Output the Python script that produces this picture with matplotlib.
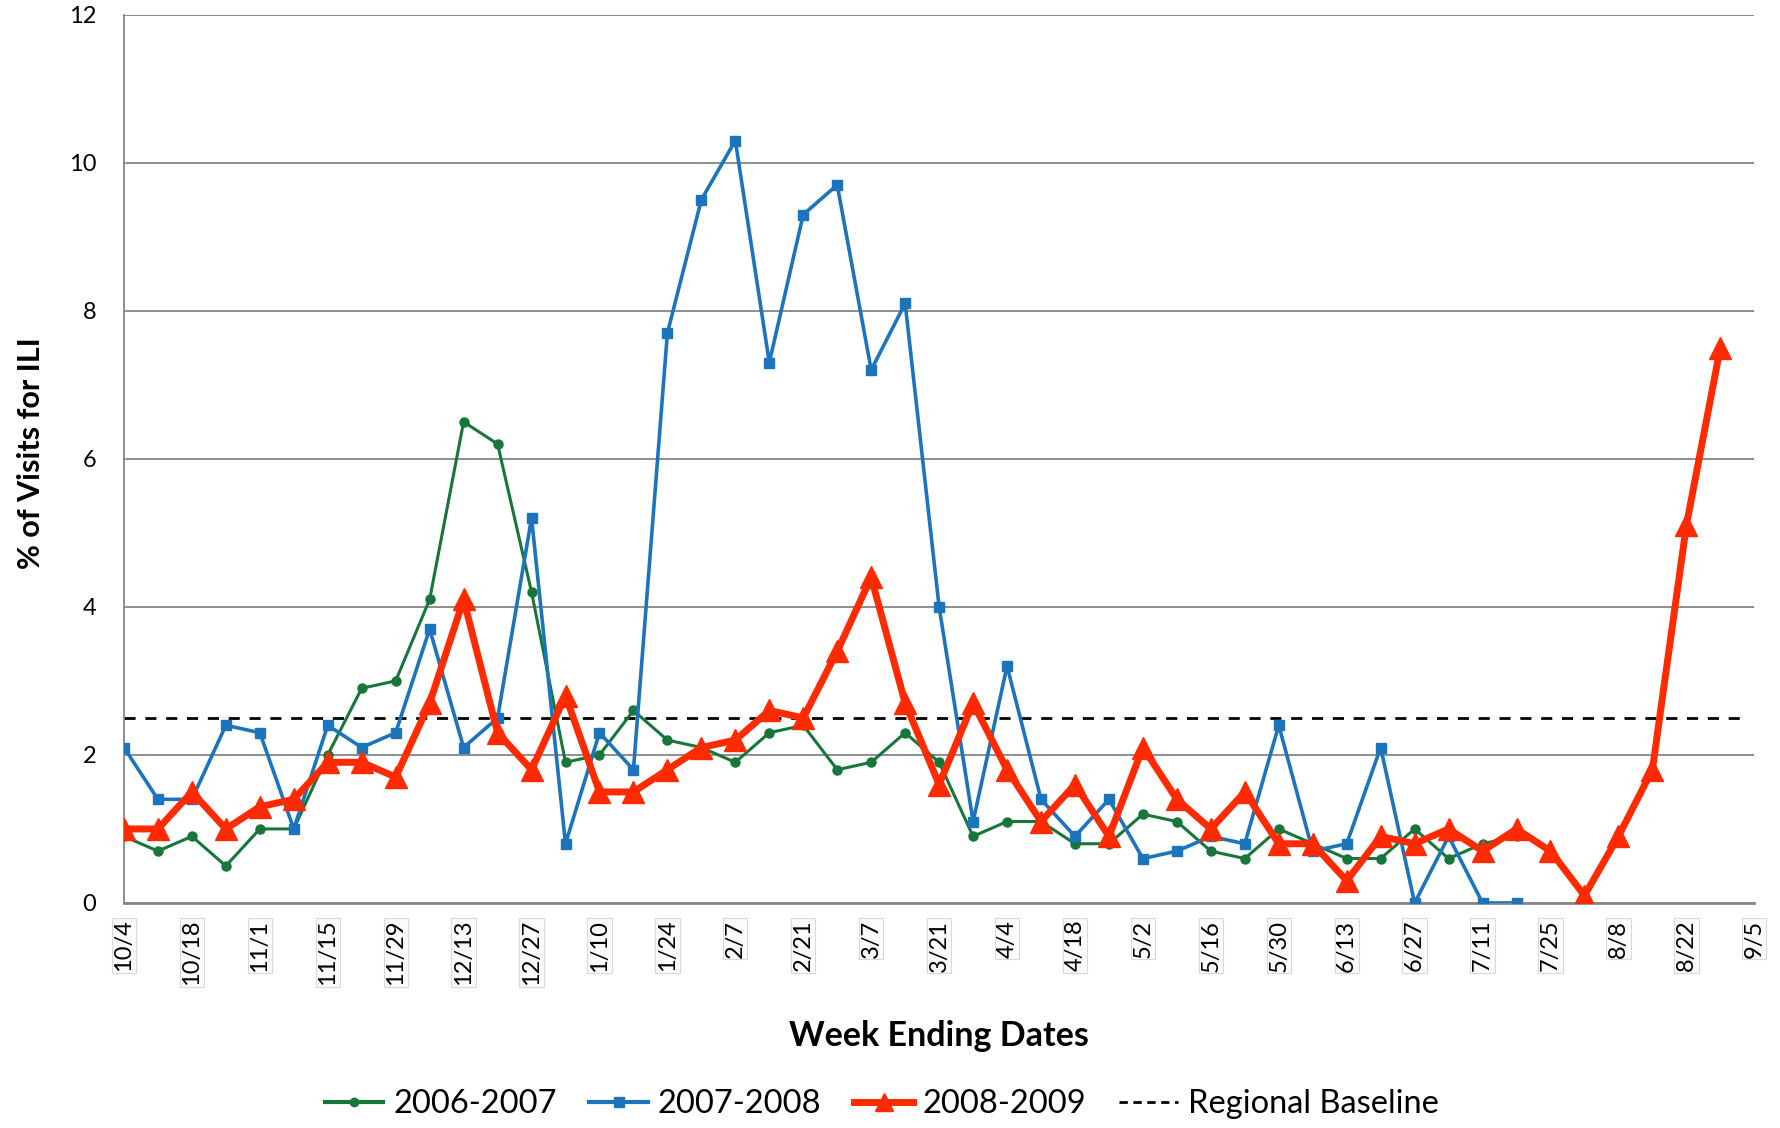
import numpy as np
from matplotlib import pyplot as plt
from matplotlib.lines import Line2D

plt.rcParams['font.family'] = ['Lato', 'DejaVu Sans']

# week ending dates shown on the axis (every 2nd week), 10/4 .. 9/5
dates = ['10/4', '10/18', '11/1', '11/15', '11/29', '12/13', '12/27', '1/10',
         '1/24', '2/7', '2/21', '3/7', '3/21', '4/4', '4/18', '5/2', '5/16',
         '5/30', '6/13', '6/27', '7/11', '7/25', '8/8', '8/22', '9/5']

s2006 = [0.9, 0.7, 0.9, 0.5, 1.0, 1.0, 2.0, 2.9, 3.0, 4.1, 6.5, 6.2, 4.2,
         1.9, 2.0, 2.6, 2.2, 2.1, 1.9, 2.3, 2.4, 1.8, 1.9, 2.3, 1.9, 0.9,
         1.1, 1.1, 0.8, 0.8, 1.2, 1.1, 0.7, 0.6, 1.0, 0.8, 0.6, 0.6, 1.0,
         0.6, 0.8, 0.9]
s2007 = [2.1, 1.4, 1.4, 2.4, 2.3, 1.0, 2.4, 2.1, 2.3, 3.7, 2.1, 2.5, 5.2,
         0.8, 2.3, 1.8, 7.7, 9.5, 10.3, 7.3, 9.3, 9.7, 7.2, 8.1, 4.0, 1.1,
         3.2, 1.4, 0.9, 1.4, 0.6, 0.7, 0.9, 0.8, 2.4, 0.7, 0.8, 2.1, 0.0,
         0.9, 0.0, 0.0]
s2008 = [1.0, 1.0, 1.5, 1.0, 1.3, 1.4, 1.9, 1.9, 1.7, 2.7, 4.1, 2.3, 1.8,
         2.8, 1.5, 1.5, 1.8, 2.1, 2.2, 2.6, 2.5, 3.4, 4.4, 2.7, 1.6, 2.7,
         1.8, 1.1, 1.6, 0.9, 2.1, 1.4, 1.0, 1.5, 0.8, 0.8, 0.3, 0.9, 0.8,
         1.0, 0.7, 1.0, 0.7, 0.1, 0.9, 1.8, 5.1, 7.5]
baseline = 2.5

green = '#17763A'
blue = '#1C75BC'
red = '#FF2A00'

fig = plt.figure(figsize=(17.81, 11.28), dpi=100)
ax = fig.add_axes([0.0696, 0.1995, 0.9154, 0.7875])

nweeks = 2 * (len(dates) - 1)
ax.axhline(baseline, xmin=0, xmax=0.995, color='black', lw=2, ls=(0, (4, 3.5)), zorder=2)
ax.plot(np.arange(len(s2006)), s2006, color=green, lw=2.2, marker='o', ms=6.5, zorder=3)
ax.plot(np.arange(len(s2007)), s2007, color=blue, lw=2.6, marker='s', ms=7.5, zorder=4)
ax.plot(np.arange(len(s2008)), s2008, color=red, lw=5, marker='^', ms=16, zorder=5)

ax.set_xlim(0, nweeks)
ax.set_ylim(0, 12)
ax.set_yticks(range(0, 13, 2))
ax.set_xticks(range(0, nweeks + 1, 2))
ax.set_xticklabels(dates, rotation=90, fontsize=17)
for t in ax.get_xticklabels():
    t.set_bbox(dict(facecolor='#fbfbfb', edgecolor='#d9d9d9', lw=0.8, pad=1.2))
ax.tick_params(axis='y', length=0, labelsize=17, pad=20)
ax.tick_params(axis='x', length=0, pad=12)
ax.grid(axis='y', color='#868686', lw=1.3)
ax.set_axisbelow(True)
for sp in ['top', 'right']:
    ax.spines[sp].set_visible(False)
ax.spines['left'].set_color('#868686')
ax.spines['bottom'].set_color('#868686')
ax.spines['left'].set_linewidth(1.3)
ax.spines['bottom'].set_linewidth(2)

fig.text(0.0172, 0.598, '% of Visits for ILI', rotation=90, ha='center', va='center',
         fontsize=22, fontweight='bold')
fig.text(0.527, 0.0816, 'Week Ending Dates', ha='center', va='center',
         fontsize=24.5, fontweight='bold')

handles = [Line2D([], [], color=green, lw=3, marker='o', ms=6),
           Line2D([], [], color=blue, lw=3, marker='s', ms=7),
           Line2D([], [], color=red, lw=5, marker='^', ms=13),
           Line2D([], [], color='black', lw=2, ls=(0, (3, 2)))]
fig.legend(handles, ['2006-2007', '2007-2008', '2008-2009', 'Regional Baseline'],
           loc='center', bbox_to_anchor=(0.495, 0.021), ncol=4, frameon=False,
           fontsize=23.5, handlelength=1.8, handletextpad=0.3, columnspacing=1.0)

fig.savefig('out.png', dpi=100)
